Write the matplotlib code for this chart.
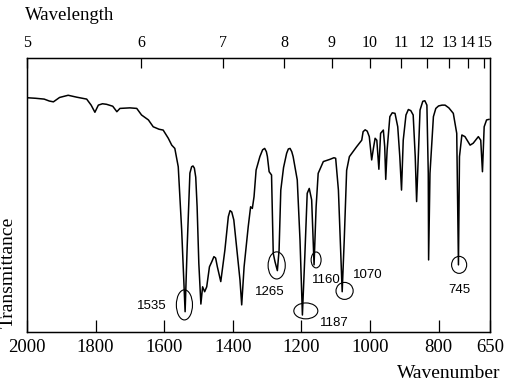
import matplotlib
matplotlib.use("Agg")
import matplotlib.pyplot as plt
from matplotlib.patches import Ellipse
import numpy as np

# IR spectrum: wavenumber (cm-1) vs transmittance (%)
wavenumber = [2000, 1975, 1950, 1935, 1923, 1905, 1880, 1855, 1826, 1813, 1802, 1792,
              1780, 1768, 1750, 1738, 1729, 1700, 1680, 1666, 1646, 1632, 1615, 1603,
              1588, 1578, 1569, 1559, 1549, 1539, 1533, 1525, 1520, 1516, 1512, 1508,
              1504, 1499, 1493, 1488, 1482, 1476, 1468, 1461, 1455, 1450, 1445, 1435,
              1423, 1413, 1408, 1403, 1397, 1387, 1379, 1374, 1367, 1362, 1355, 1348,
              1343, 1338, 1332, 1321, 1313, 1307, 1302, 1299, 1294, 1287, 1282, 1277,
              1270, 1265, 1260, 1252, 1243, 1238, 1233, 1228, 1224, 1212, 1204, 1197,
              1190, 1183, 1177, 1170, 1163, 1157, 1151, 1136, 1117, 1105, 1100, 1092,
              1085, 1081, 1075, 1068, 1060, 1053, 1039, 1024, 1020, 1014, 1008, 1002,
              995, 990, 985, 980, 974, 969, 961, 957, 954, 950, 942, 935,
              927, 919, 913, 908, 903, 895, 888, 881, 874, 868, 864, 859,
              854, 846, 840, 834, 830, 829, 825, 815, 808, 800, 790, 781,
              770, 757, 747, 742, 739, 732, 723, 708, 699, 684, 677, 672,
              667, 660, 653]
transmittance = [85.5, 85.3, 85.0, 84.3, 84.0, 85.6, 86.4, 85.7, 85.0, 82.8, 80.2, 82.8,
                 83.3, 83.1, 82.4, 80.4, 81.6, 81.8, 81.6, 79.2, 77.4, 74.9, 74.0, 73.7,
                 70.7, 68.2, 67.0, 60.3, 37.2, 7.4, 31.0, 58.0, 60.3, 60.6, 59.8, 56.5,
                 45.7, 25.0, 10.2, 16.5, 14.7, 16.5, 23.8, 25.7, 27.5, 27.0, 23.8, 18.4,
                 29.9, 42.1, 44.3, 43.8, 40.9, 28.7, 19.0, 9.9, 23.8, 29.9, 38.4, 45.7,
                 45.1, 49.4, 59.1, 64.0, 66.5, 67.0, 65.8, 64.0, 58.5, 57.3, 28.7, 25.7,
                 22.4, 29.9, 51.8, 60.0, 65.2, 66.8, 67.0, 65.8, 64.0, 55.5, 33.6, 6.2,
                 27.5, 50.6, 52.4, 48.2, 24.5, 45.7, 57.9, 62.2, 63.0, 63.6, 63.4, 51.8,
                 27.5, 14.7, 33.6, 59.0, 64.0, 65.2, 67.6, 70.0, 73.1, 73.8, 73.3, 71.3,
                 62.8, 67.0, 70.7, 70.0, 59.4, 72.5, 73.7, 67.6, 55.7, 66.4, 78.6, 80.0,
                 79.8, 74.9, 64.0, 51.8, 70.0, 79.2, 81.2, 80.8, 79.2, 64.0, 47.6, 64.0,
                 81.0, 84.2, 84.4, 82.8, 57.9, 26.3, 57.9, 78.6, 81.6, 82.5, 82.8, 82.8,
                 81.8, 79.8, 72.5, 24.5, 64.0, 71.9, 71.3, 68.2, 68.9, 71.3, 70.0, 58.5,
                 74.9, 77.4, 77.6]

bottom_ticks = [2000, 1800, 1600, 1400, 1200, 1000, 800, 650]
wavelength_ticks = [5, 6, 7, 8, 9, 10, 11, 12, 13, 14, 15]

peak_labels = ["1535", "1265", "1187", "1160", "1070", "745"]

# layout for circled peaks: ellipse centre/size and label position (data units)
ellipses = [(1541, 9.9, 47, 11.0), (1272, 24.3, 50, 9.9), (1187, 7.7, 70, 5.8),
            (1157, 26.3, 29, 5.8), (1074, 15.0, 50, 6.2), (740, 24.5, 44, 6.2)]
label_pos = [(1592, 9.5, "right"), (1292, 14.7, "center"), (1146, 3.4, "left"),
             (1128, 19.0, "center"), (1006, 20.8, "center"), (738, 15.3, "center")]

serif = "Liberation Serif"
sans = "Liberation Sans"

fig = plt.figure(figsize=(5.11, 3.92), dpi=100)
ax = fig.add_axes([27/511, 1-332/392, 463/511, 274/392])

ax.plot(wavenumber, transmittance, color="black", lw=1.1, solid_joinstyle="round")
ax.set_xlim(2000, 650)
ax.set_ylim(0, 100)
ax.set_yticks([])
ax.set_xticks(bottom_ticks)
ax.set_xticklabels([str(t) for t in bottom_ticks], fontfamily=serif, fontsize=13.5)
ax.tick_params(axis="x", direction="in", length=9, width=0.9, pad=5)
for s in ax.spines.values():
    s.set_linewidth(1.0)

top = ax.twiny()
top.set_xlim(2000, 650)
top.set_xticks([10000.0/w for w in wavelength_ticks])
top.set_xticklabels([str(w) for w in wavelength_ticks], fontfamily=serif, fontsize=11.5)
top.tick_params(axis="x", direction="in", length=7, width=0.9, pad=5)

for (cx, cy, w, h), lab, (lx, ly, ha) in zip(ellipses, peak_labels, label_pos):
    ax.add_patch(Ellipse((cx, cy), w, h, fill=False, lw=0.8, color="black"))
    ax.text(lx, ly, lab, fontfamily=sans, fontsize=9.5, ha=ha, va="center")

fig.text(25/511, 1-15/392, "Wavelength", fontfamily=serif, fontsize=13.5,
         ha="left", va="center")
fig.text(500/511, 1-373/392, "Wavenumber", fontfamily=serif, fontsize=14,
         ha="right", va="center")
fig.text(8/511, 1-328/392, "Transmittance", fontfamily=serif, fontsize=14,
         rotation=90, ha="center", va="bottom")

plt.savefig("out.png", dpi=100)
